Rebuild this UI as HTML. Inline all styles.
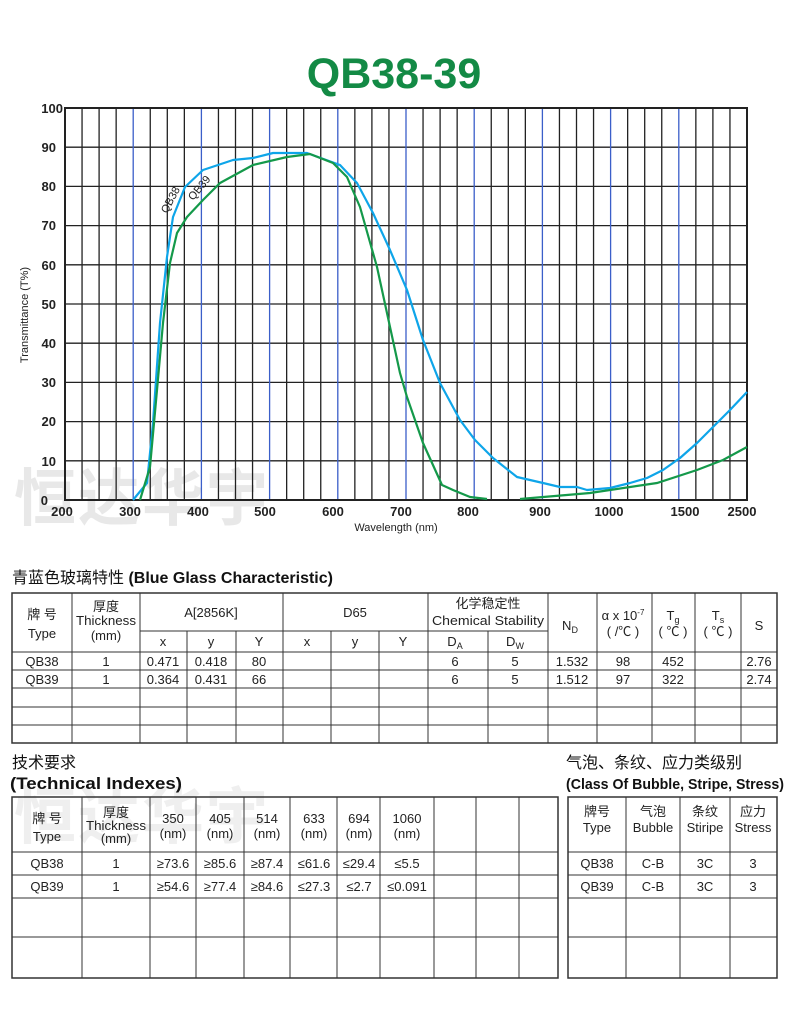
<!DOCTYPE html>
<html><head><meta charset="utf-8"><style>
html,body{margin:0;padding:0;background:#fff;}
svg{display:block;}
text{font-family:"Liberation Sans","Noto Sans CJK SC",sans-serif;}
</style></head><body>
<svg width="790" height="1023" viewBox="0 0 790 1023" xmlns="http://www.w3.org/2000/svg">
<rect width="790" height="1023" fill="#fff"/>
<text x="14" y="520" font-size="62" font-weight="bold" fill="#e8e8e8" letter-spacing="2">恒达华宇</text>
<text x="14" y="838" font-size="62" font-weight="bold" fill="#efefef" letter-spacing="2">恒达华宇</text>

<text x="394" y="88" font-size="43" font-weight="bold" fill="#138a45" text-anchor="middle">QB38-39</text>

<g stroke="#222" stroke-width="1.3" fill="none">
<path d="M65,108H747M65,147.2H747M65,186.4H747M65,225.6H747M65,264.8H747M65,304H747M65,343.2H747M65,382.4H747M65,421.6H747M65,460.8H747M65,500H747"/>
<path d="M82.05,108V500M99.1,108V500M116.15,108V500M150.25,108V500M167.3,108V500M184.35,108V500M218.45,108V500M235.5,108V500M252.55,108V500M286.65,108V500M303.7,108V500M320.75,108V500M354.85,108V500M371.9,108V500M388.95,108V500M423.05,108V500M440.1,108V500M457.15,108V500M491.25,108V500M508.3,108V500M525.35,108V500M559.45,108V500M576.5,108V500M593.55,108V500M627.65,108V500M644.7,108V500M661.75,108V500M695.85,108V500M712.9,108V500M729.95,108V500"/>
</g>
<g stroke="#3b5fc9" stroke-width="1.3" fill="none">
<path d="M133.2,108V500M201.4,108V500M269.6,108V500M337.8,108V500M406,108V500M474.2,108V500M542.4,108V500M610.6,108V500M678.8,108V500"/>
</g>
<rect x="65" y="108" width="682" height="392" fill="none" stroke="#222" stroke-width="2"/>

<path fill="none" stroke="#0ea5e9" stroke-width="2.2" stroke-linejoin="round" d="M133,500 L147,483 L153,423 L160,323 L167,257 L173,217 L185,187 L203,170 L233,160 L253,158 L273,153 L307,153 L340,165 L357,183 L373,213 L390,250 L407,290 L423,340 L440,383 L460,420 L475,440 L493,458 L517,477 L543,483 L560,487 L577,487 L587,490 L610,488 L630,483 L647,478 L663,470 L680,458 L697,443 L713,427 L730,410 L747,392"/>
<path fill="none" stroke="#14994a" stroke-width="2.2" stroke-linejoin="round" d="M140,500 L150,467 L157,390 L163,323 L170,263 L177,233 L187,217 L203,200 L220,183 L253,165 L287,157 L310,154 L333,163 L347,177 L360,207 L377,267 L400,373 L407,397 L423,443 L442,485 L453,490 L470,497 L487,499"/>
<path fill="none" stroke="#14994a" stroke-width="2.2" d="M520,499 L590,493 L657,483 L697,470 L723,460 L747,447"/>
<text x="0" y="0" font-size="11" fill="#222" transform="translate(167,214) rotate(-62)">QB38</text>
<text x="0" y="0" font-size="11" fill="#222" transform="translate(193,201) rotate(-50)">QB39</text>

<g font-size="13" font-weight="bold" fill="#222" text-anchor="end">
<text x="63" y="113">100</text><text x="56" y="152">90</text><text x="56" y="191">80</text><text x="56" y="230">70</text><text x="56" y="270">60</text><text x="56" y="309">50</text><text x="56" y="348">40</text><text x="56" y="387">30</text><text x="56" y="426">20</text><text x="56" y="466">10</text><text x="48" y="505">0</text>
</g>
<g font-size="13" font-weight="bold" fill="#222" text-anchor="middle">
<text x="62" y="516">200</text><text x="130" y="516">300</text><text x="198" y="516">400</text><text x="265" y="516">500</text><text x="333" y="516">600</text><text x="401" y="516">700</text><text x="468" y="516">800</text><text x="540" y="516">900</text><text x="609" y="516">1000</text><text x="685" y="516">1500</text><text x="742" y="516">2500</text>
</g>
<text x="396" y="531" font-size="11" fill="#222" text-anchor="middle">Wavelength (nm)</text>
<text x="0" y="0" font-size="11" fill="#222" text-anchor="middle" transform="translate(28,315) rotate(-90)">Transmittance (T%)</text>

<text x="12" y="583" font-size="16" fill="#111">青蓝色玻璃特性 <tspan font-weight="bold">(Blue Glass Characteristic)</tspan></text>
<g stroke="#333" stroke-width="1" fill="none">
<rect x="12" y="593" width="765" height="150" stroke-width="1.5"/>
<path d="M140,631H548M12,652H777M12,670H777M12,688H777M12,707H777M12,725H777"/>
<path d="M72,593V743M140,593V743M283,593V743M428,593V743M548,593V743M597,593V743M652,593V743M695,593V743M741,593V743"/>
<path d="M187,631V743M236,631V743M331,631V743M379,631V743M488,631V743"/>
</g>
<g font-size="13" fill="#222" text-anchor="middle">
<text x="42" y="619">牌 号</text><text x="42" y="638">Type</text>
<text x="106" y="611">厚度</text><text x="106" y="625" textLength="60" lengthAdjust="spacingAndGlyphs">Thickness</text><text x="106" y="640">(mm)</text>
<text x="211" y="617">A[2856K]</text><text x="355" y="617">D65</text>
<text x="488" y="608">化学稳定性</text><text x="488" y="625" textLength="112" lengthAdjust="spacingAndGlyphs">Chemical Stability</text>
<text x="163" y="646">x</text><text x="211" y="646">y</text><text x="259" y="646">Y</text>
<text x="307" y="646">x</text><text x="355" y="646">y</text><text x="403" y="646">Y</text>
<text x="455" y="646">D<tspan font-size="9" dy="3">A</tspan></text><text x="515" y="646">D<tspan font-size="9" dy="3">W</tspan></text>
<text x="570" y="630">N<tspan font-size="9" dy="3">D</tspan></text>
<text x="623" y="620">α x 10<tspan font-size="8" dy="-5">-7</tspan></text><text x="623" y="636">( /℃ )</text>
<text x="673" y="620">T<tspan font-size="9" dy="3">g</tspan></text><text x="673" y="636">( ℃ )</text>
<text x="718" y="620">T<tspan font-size="9" dy="3">s</tspan></text><text x="718" y="636">( ℃ )</text>
<text x="759" y="630">S</text>
<text x="42" y="666">QB38</text><text x="106" y="666">1</text><text x="163" y="666">0.471</text><text x="211" y="666">0.418</text><text x="259" y="666">80</text><text x="455" y="666">6</text><text x="515" y="666">5</text><text x="572" y="666">1.532</text><text x="623" y="666">98</text><text x="673" y="666">452</text><text x="759" y="666">2.76</text>
<text x="42" y="684">QB39</text><text x="106" y="684">1</text><text x="163" y="684">0.364</text><text x="211" y="684">0.431</text><text x="259" y="684">66</text><text x="455" y="684">6</text><text x="515" y="684">5</text><text x="572" y="684">1.512</text><text x="623" y="684">97</text><text x="673" y="684">322</text><text x="759" y="684">2.74</text>
</g>

<text x="12" y="768" font-size="16" fill="#111">技术要求</text>
<text x="10" y="789" font-size="17" font-weight="bold" fill="#111" textLength="172" lengthAdjust="spacingAndGlyphs">(Technical Indexes)</text>
<text x="566" y="768" font-size="16" fill="#111">气泡、条纹、应力类级别</text>
<text x="566" y="789" font-size="15" font-weight="bold" fill="#111" textLength="218" lengthAdjust="spacingAndGlyphs">(Class Of Bubble, Stripe, Stress)</text>
<g stroke="#333" stroke-width="1" fill="none">
<rect x="12" y="797" width="546" height="181" stroke-width="1.5"/>
<path d="M12,852H558M12,875H558M12,898H558M12,937H558"/>
<path d="M82,797V978M150,797V978M196,797V978M244,797V978M290,797V978M337,797V978M380,797V978M434,797V978M476,797V978M519,797V978"/>
<rect x="568" y="797" width="209" height="181" stroke-width="1.5"/>
<path d="M568,852H777M568,875H777M568,898H777M568,937H777"/>
<path d="M626,797V978M680,797V978M730,797V978"/>
</g>
<g font-size="13" fill="#222" text-anchor="middle">
<text x="47" y="823">牌 号</text><text x="47" y="841">Type</text>
<text x="116" y="817">厚度</text><text x="116" y="830" textLength="60" lengthAdjust="spacingAndGlyphs">Thickness</text><text x="116" y="843">(mm)</text>
<text x="173" y="823">350</text><text x="173" y="838">(nm)</text>
<text x="220" y="823">405</text><text x="220" y="838">(nm)</text>
<text x="267" y="823">514</text><text x="267" y="838">(nm)</text>
<text x="314" y="823">633</text><text x="314" y="838">(nm)</text>
<text x="359" y="823">694</text><text x="359" y="838">(nm)</text>
<text x="407" y="823">1060</text><text x="407" y="838">(nm)</text>
<text x="47" y="868">QB38</text><text x="116" y="868">1</text><text x="173" y="868">≥73.6</text><text x="220" y="868">≥85.6</text><text x="267" y="868">≥87.4</text><text x="314" y="868">≤61.6</text><text x="359" y="868">≤29.4</text><text x="407" y="868">≤5.5</text>
<text x="47" y="891">QB39</text><text x="116" y="891">1</text><text x="173" y="891">≥54.6</text><text x="220" y="891">≥77.4</text><text x="267" y="891">≥84.6</text><text x="314" y="891">≤27.3</text><text x="359" y="891">≤2.7</text><text x="407" y="891">≤0.091</text>
<text x="597" y="816">牌号</text><text x="597" y="832">Type</text>
<text x="653" y="816">气泡</text><text x="653" y="832">Bubble</text>
<text x="705" y="816">条纹</text><text x="705" y="832">Stiripe</text>
<text x="753" y="816">应力</text><text x="753" y="832">Stress</text>
<text x="597" y="868">QB38</text><text x="653" y="868">C-B</text><text x="705" y="868">3C</text><text x="753" y="868">3</text>
<text x="597" y="891">QB39</text><text x="653" y="891">C-B</text><text x="705" y="891">3C</text><text x="753" y="891">3</text>
</g>
</svg>
</body></html>
